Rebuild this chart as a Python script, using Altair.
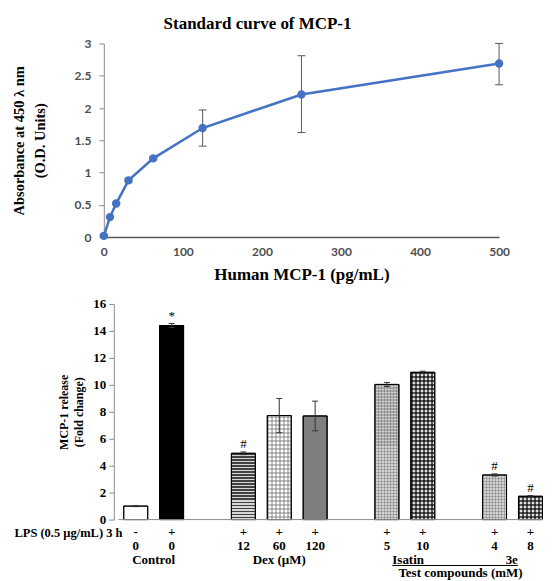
import altair as alt
import pandas as pd

# ---------------- top panel data (standard curve) ----------------
conc = [0, 7.8, 15.6, 31.25, 62.5, 125, 250, 500]
absorb = [0.02, 0.31, 0.52, 0.88, 1.22, 1.69, 2.21, 2.69]
abs_lo = [0.01, 0.30, 0.51, 0.85, 1.20, 1.41, 1.62, 2.36]
abs_hi = [0.03, 0.32, 0.53, 0.91, 1.24, 1.97, 2.81, 3.00]

# ---------------- bottom panel data (bars) ----------------
slots = [0, 1, 3, 4, 5, 7, 8, 10, 11]
keys = ["c0", "l0", "d12", "d60", "d120", "i5", "i10", "e4", "e8"]
lps = ["-", "+", "+", "+", "+", "+", "+", "+", "+"]
doses = ["0", "0", "12", "60", "120", "5", "10", "4", "8"]
release = [1.0, 14.4, 4.92, 7.72, 7.69, 10.03, 10.93, 3.31, 1.73]
rel_err = [0.04, 0.15, 0.10, 1.27, 1.10, 0.15, 0.08, 0.08, 0.05]
sig = ["", "*", "#", "", "", "", "", "#", "#"]
bar_colors = ["#ffffff", "#000000", "#d6d6d6", "#ffffff", "#7f7f7f",
              "#d2d2d2", "#e0e0e0", "#d2d2d2", "#e0e0e0"]

group_text = ["Control", "Dex (\u00b5M)", "Isatin", "3e"]
group_x = [0.5, 4.0, 7.15, 10.65]
group_align = ["center", "center", "left", "right"]

SERIF = "Liberation Serif"
SANS = "Lato"

# ---------------- top chart ----------------
top_df = pd.DataFrame({"conc": conc, "absorb": absorb, "lo": abs_lo, "hi": abs_hi})
xs = alt.Scale(domain=[0, 500], nice=False)
ys = alt.Scale(domain=[0, 3], nice=False)
tb = alt.Chart(top_df)

ax_top_x = alt.Axis(
    values=[0, 100, 200, 300, 400, 500], title="Human MCP-1 (pg/mL)",
    labelFont=SANS, labelFontWeight="bold", labelFontSize=12, labelColor="#4d4d4d",
    labelPadding=9, labelFlush=False, ticks=False, domainColor="#595959", domainWidth=1.5,
    grid=False,
    titleFont=SERIF, titleFontSize=17, titleFontWeight="bold", titleColor="black",
    titlePadding=9)
ax_top_y = alt.Axis(
    values=[0, 0.5, 1, 1.5, 2, 2.5, 3], format="~g", labelFlush=False,
    title=["Absorbance at 450 \u03bb nm", "(O.D. Units)"],
    labelFont=SANS, labelFontWeight="bold", labelFontSize=12, labelColor="#4d4d4d",
    labelPadding=8, tickSize=5, tickColor="#8c8c8c", domainColor="#8c8c8c", grid=False,
    titleFont=SERIF, titleFontSize=14.5, titleFontWeight="bold", titleColor="black",
    titlePadding=27, titleLineHeight=21)


def tx(f):
    return alt.X(f, type="quantitative", scale=xs, axis=ax_top_x)


def ty(f):
    return alt.Y(f, type="quantitative", scale=ys, axis=ax_top_y)


cap_shape = "M-1,0H1"
line = tb.mark_line(color="#4472C4", strokeWidth=2.5).encode(x=tx("conc"), y=ty("absorb"))
err_top = tb.mark_rule(color="#595959", strokeWidth=1).encode(
    x=tx("conc"), y=ty("lo"), y2="hi")
caps_lo = tb.mark_point(shape=cap_shape, size=64, filled=False, color="#595959",
                        strokeWidth=1, opacity=1).encode(x=tx("conc"), y=ty("lo"))
caps_hi = tb.mark_point(shape=cap_shape, size=64, filled=False, color="#595959",
                        strokeWidth=1, opacity=1).encode(x=tx("conc"), y=ty("hi"))
pts = tb.mark_circle(color="#4472C4", size=70, opacity=1).encode(x=tx("conc"), y=ty("absorb"))

top = alt.layer(line, err_top, caps_lo, caps_hi, pts).properties(
    width=396, height=194,
    title=alt.TitleParams("Standard curve of MCP-1", font=SERIF, fontSize=17,
                          fontWeight="bold", color="black", offset=4, dx=-44))

# ---------------- bottom chart ----------------
H = 216
PX_PER_UNIT = H / 16.0
bot_df = pd.DataFrame({"slot": slots, "key": keys, "lps": lps, "dose": doses,
                       "release": release, "err": rel_err, "sig": sig})
bot_df["lo"] = bot_df["release"] - bot_df["err"]
bot_df["hi"] = bot_df["release"] + bot_df["err"]
bx = alt.Scale(domain=[-0.75, 11.35], nice=False, zero=False)
by = alt.Scale(domain=[0, 16], nice=False)
bb = alt.Chart(bot_df)

ax_bot_y = alt.Axis(
    values=list(range(0, 17, 2)), title=["MCP-1 release", "(Fold change)"],
    labelFont=SERIF, labelFontWeight="bold", labelFontSize=13, labelColor="black",
    labelPadding=3, labelFlush=False, tickSize=5, tickColor="#8c8c8c", domainColor="#8c8c8c",
    grid=False, offset=-10,
    titleFont=SERIF, titleFontSize=12, titleFontWeight="bold", titleColor="black",
    titlePadding=7, titleLineHeight=15)


def bxe(f):
    return alt.X(f, type="quantitative", scale=bx, axis=None)


def bye(f):
    return alt.Y(f, type="quantitative", scale=by, axis=ax_bot_y)


bars = bb.mark_bar(size=24, stroke="black", strokeWidth=1).encode(
    x=bxe("slot"), y=bye("release"),
    fill=alt.Fill("key:N", scale=alt.Scale(domain=keys, range=bar_colors), legend=None))


def stripes(n, dark, light, horizontal):
    st = []
    for i in range(n):
        a, b, c = i / n, (i + 0.5) / n, (i + 1) / n
        st += [alt.GradientStop(color=dark, offset=a), alt.GradientStop(color=dark, offset=b),
               alt.GradientStop(color=light, offset=b), alt.GradientStop(color=light, offset=c)]
    if horizontal:
        return alt.Gradient(gradient="linear", stops=st, x1=0, x2=0, y1=0, y2=1)
    return alt.Gradient(gradient="linear", stops=st, x1=0, x2=1, y1=0, y2=0)


# texture style per bar
texture_keys = ["d12", "d60", "i5", "i10", "e4", "e8"]
texture_period = [3, 4, 3, 4, 3, 4]
texture_dark = ["rgba(40,40,40,0.85)", "rgba(90,90,90,0.35)", "rgba(90,90,90,0.35)",
                "rgba(0,0,0,0.6)", "rgba(90,90,90,0.35)", "rgba(0,0,0,0.6)"]
texture_grid = [False, True, True, True, True, True]

tex_layers = []
for k, per, dk, grid in zip(texture_keys, texture_period, texture_dark, texture_grid):
    val = release[keys.index(k)]
    n_h = max(1, round(val * PX_PER_UNIT / per))
    tex_layers.append(bb.transform_filter(alt.datum.key == k).mark_bar(
        size=24, strokeWidth=0, fill=stripes(n_h, dk, "rgba(255,255,255,0)", True)).encode(
        x=bxe("slot"), y=bye("release")))
    if grid:
        tex_layers.append(bb.transform_filter(alt.datum.key == k).mark_bar(
            size=24, strokeWidth=0, fill=stripes(round(24 / per), dk, "rgba(255,255,255,0)", False)).encode(
            x=bxe("slot"), y=bye("release")))

outline = bb.mark_bar(size=24, stroke="black", strokeWidth=1, fillOpacity=0).encode(
    x=bxe("slot"), y=bye("release"))

err_b = bb.mark_rule(color="#333333", strokeWidth=1).encode(
    x=bxe("slot"), y=bye("lo"), y2="hi")
capb_lo = bb.mark_point(shape=cap_shape, size=36, filled=False, color="#333333",
                        strokeWidth=1, opacity=1).encode(x=bxe("slot"), y=bye("lo"))
capb_hi = bb.mark_point(shape=cap_shape, size=36, filled=False, color="#333333",
                        strokeWidth=1, opacity=1).encode(x=bxe("slot"), y=bye("hi"))
sig_t = bb.mark_text(font=SERIF, fontSize=13, color="black", baseline="bottom", dy=-1).encode(
    x=bxe("slot"), y=bye("hi"), text="sig:N")

lps_t = bb.mark_text(font=SERIF, fontSize=13, fontWeight="bold", color="black").encode(
    x=bxe("slot"), y=alt.value(H + 12), text="lps:N")
dose_t = bb.mark_text(font=SERIF, fontSize=13, fontWeight="bold", color="black").encode(
    x=bxe("slot"), y=alt.value(H + 26), text="dose:N")

one = pd.DataFrame({"t": ["LPS (0.5 \u00b5g/mL) 3 h"], "x": [-0.37]})
lps_lab = alt.Chart(one).mark_text(font=SERIF, fontSize=12.5, fontWeight="bold", color="black",
                                   align="right").encode(
    x=bxe("x"), y=alt.value(H + 13), text="t:N")

grp_df = pd.DataFrame({"t": group_text, "x": group_x, "a": group_align})
grp_layers = []
for al in ["center", "left", "right"]:
    grp_layers.append(alt.Chart(grp_df).transform_filter(alt.datum.a == al).mark_text(
        font=SERIF, fontSize=13, fontWeight="bold", color="black", align=al).encode(
        x=bxe("x"), y=alt.value(H + 40), text="t:N"))

test_df = pd.DataFrame({"t": ["Test compounds (mM)"], "x": [9.05]})
test_t = alt.Chart(test_df).mark_text(font=SERIF, fontSize=13, fontWeight="bold",
                                      color="black").encode(
    x=bxe("x"), y=alt.value(H + 54), text="t:N")

ul_df = pd.DataFrame({"x1": [7.15], "x2": [10.65]})
underline = alt.Chart(ul_df).mark_rule(color="black", strokeWidth=1).encode(
    x=bxe("x1"), x2="x2", y=alt.value(H + 46))

base_df = pd.DataFrame({"x1": [-0.48], "x2": [11.35], "y": [0]})
baseline = alt.Chart(base_df).mark_rule(color="#8c8c8c", strokeWidth=1).encode(
    x=bxe("x1"), x2="x2", y=bye("y"))

bottom = alt.layer(bars, *tex_layers, outline, err_b, capb_lo, capb_hi, sig_t, baseline,
                   lps_t, dose_t, lps_lab, *grp_layers, test_t, underline).properties(
    width=445, height=H)

chart = alt.vconcat(top, bottom, spacing=16).properties(
    padding={"left": 3, "top": 7, "right": 0, "bottom": 0}).configure_view(stroke=None)
chart.save("out.html", embed_options={"renderer": "svg", "actions": False})
